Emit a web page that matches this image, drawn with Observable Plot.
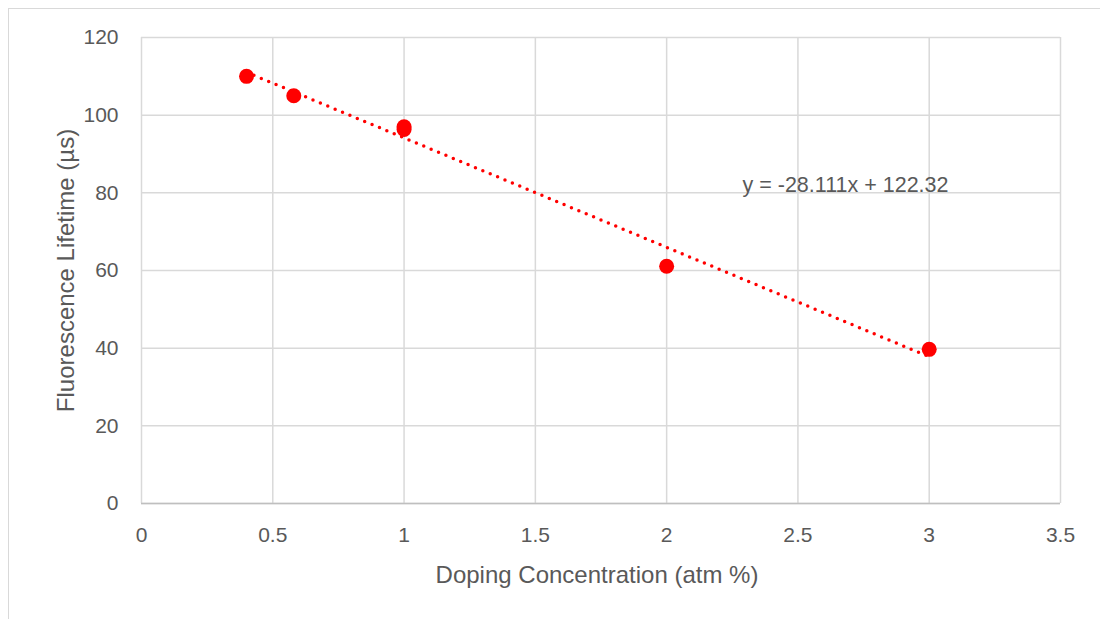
<!DOCTYPE html>
<html>
<head>
<meta charset="utf-8">
<script src="https://cdn.jsdelivr.net/npm/d3@7"></script>
<script src="https://cdn.jsdelivr.net/npm/@observablehq/plot@0.6"></script>
<style>
  html, body { margin: 0; padding: 0; background: #fff; }
  #wrap { position: relative; width: 1100px; height: 619px; overflow: hidden; }
  #border { position: absolute; left: 8px; top: 8px; width: 1100px; height: 640px; border: 1.5px solid #d9d9d9; box-sizing: border-box; }
  #chart { position: absolute; left: 0; top: 0; }
</style>
</head>
<body>
<div id="wrap"><div id="border"></div><div id="chart"></div></div>
<script>
const concentration = [0.4, 0.58, 1.0, 1.0, 2.0, 3.0];
const lifetime = [110, 105, 97, 96.3, 61.1, 39.7];
const xTicks = [0, 0.5, 1, 1.5, 2, 2.5, 3, 3.5];
const yTicks = [0, 20, 40, 60, 80, 100, 120];
const xLabel = ["Doping Concentration (atm %)"];
const yLabel = ["Fluorescence Lifetime (µs)"];
const equation = ["y = -28.111x + 122.32"];

const data = concentration.map((c, i) => ({x: c, y: lifetime[i]}));
const font = "'Liberation Sans', Arial, sans-serif";
const grey = "#595959";

const chart = Plot.plot({
  width: 1100,
  height: 619,
  marginLeft: 141,
  marginRight: 40,
  marginTop: 37,
  marginBottom: 116,
  style: { fontFamily: font, fontSize: "21px", color: grey, background: "transparent" },
  x: { domain: [0, 3.5] },
  y: { domain: [0, 120] },
  marks: [
    Plot.gridX(xTicks, { stroke: "#d9d9d9", strokeOpacity: 1, strokeWidth: 1.5 }),
    Plot.gridY(yTicks, { stroke: "#d9d9d9", strokeOpacity: 1, strokeWidth: 1.5 }),
    Plot.ruleY([0], { stroke: "#bfbfbf", strokeWidth: 1.5 }),
    Plot.axisX(xTicks, { tickSize: 0, tickPadding: 24, fontSize: 21, fill: grey,
      label: null, tickFormat: d => String(d) }),
    Plot.axisY(yTicks, { tickSize: 0, tickPadding: 23, fontSize: 21, fill: grey, label: null }),
    Plot.text(xLabel, { text: d => d, frameAnchor: "bottom", dx: -4, dy: 72, textAnchor: "middle",
      lineAnchor: "middle", fontSize: 24, fill: grey }),
    Plot.text(yLabel, { text: d => d, frameAnchor: "left", dx: -75.5, rotate: -90, textAnchor: "middle",
      lineAnchor: "middle", fontSize: 24, fill: grey }),
    Plot.linearRegressionY(data, { x: "x", y: "y", ci: 0, stroke: "#ff0000", strokeWidth: 3.5,
      strokeDasharray: "0 8", strokeLinecap: "round" }),
    Plot.dot(data, { x: "x", y: "y", r: 7.5, fill: "#ff0000", stroke: "none" }),
    Plot.text(equation, { text: d => d, frameAnchor: "top-left", dx: 601, dy: 148,
      textAnchor: "start", lineAnchor: "middle", fontSize: 21.5, fill: grey })
  ]
});
document.getElementById("chart").appendChild(chart);
</script>
</body>
</html>
